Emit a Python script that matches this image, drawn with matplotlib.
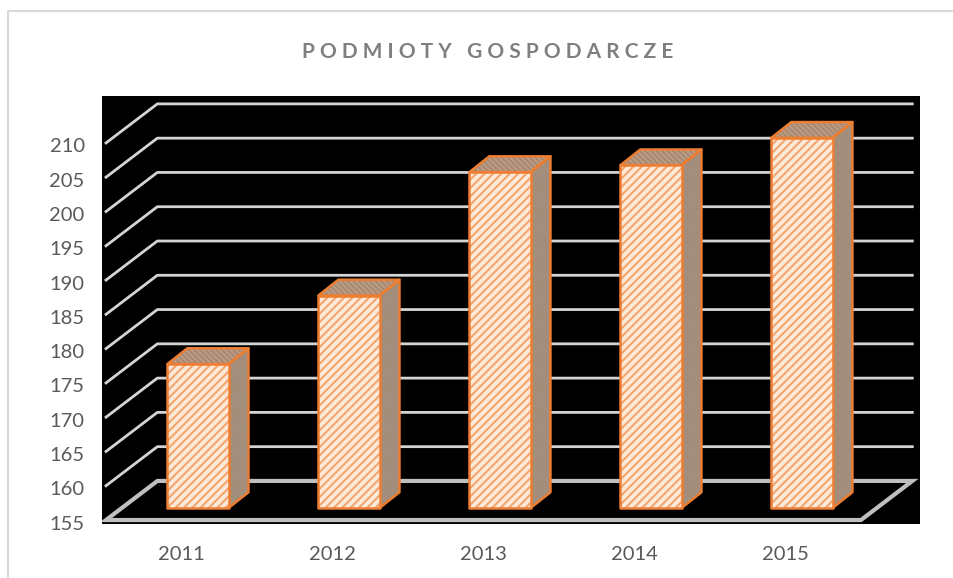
import matplotlib
matplotlib.use("Agg")
import matplotlib.pyplot as plt
from matplotlib.lines import Line2D
from matplotlib.patches import Polygon
from matplotlib.transforms import ScaledTranslation

plt.rcParams['font.family'] = ['Lato', 'DejaVu Sans']

years = ['2011', '2012', '2013', '2014', '2015']
values = [176, 186, 204, 205, 209]
ticks = [155, 160, 165, 170, 175, 180, 185, 190, 195, 200, 205, 210]

W, H = 954, 578
depth_x, depth_y = 0.34, 5.7     # wall depth in data units
bar_w = 0.405
bar_dx, bar_dy = 0.132, 2.3      # bar depth
bar_shift_x, bar_shift_y = 0.109, 1.75  # bar sits a bit inside the floor
orange = '#ed7d31'
grid = '#d4d4d4'

fig = plt.figure(figsize=(W / 100, H / 100), dpi=100)
ax = fig.add_axes([102 / W, 1 - 524 / H, (920 - 102) / W, (524 - 96) / H])
ax.set_facecolor('black')
ax.set_xlim(-0.5265, 4.891)
ax.set_ylim(154.42, 216.85)
for s in ax.spines.values():
    s.set_visible(False)

# gridlines on back wall + left wall
for t in ticks[1:]:
    ax.plot([-0.5, -0.5 + depth_x, 4.5 + depth_x], [t, t + depth_y, t + depth_y],
            color=grid, lw=2.0, zorder=1, solid_joinstyle='round')

# floor
ax.add_patch(Polygon([(-0.5, 155), (4.5, 155), (4.5 + depth_x, 155 + depth_y), (-0.5 + depth_x, 155 + depth_y)],
                     closed=True, fill=False, edgecolor='#bfbfbf', lw=3.0, zorder=2))


def face(pts, fc, hatch, hc, hw, z):
    plt.rcParams['hatch.linewidth'] = hw
    ax.add_patch(Polygon(pts, closed=True, facecolor=fc, edgecolor=hc, hatch=hatch, lw=0, zorder=z))
    ax.add_patch(Polygon(pts, closed=True, fill=False, edgecolor=orange, lw=1.8, zorder=z + 0.1, joinstyle='round'))


for i, v in enumerate(values):
    x0 = i + bar_shift_x - bar_w / 2
    x1 = x0 + bar_w
    y0 = 155 + bar_shift_y
    y1 = v + bar_shift_y
    face([(x1, y0), (x1 + bar_dx, y0 + bar_dy), (x1 + bar_dx, y1 + bar_dy), (x1, y1)],
         '#ab8a72', 'xxxxxxxx', '#9c9184', 0.6, 3)
    face([(x0, y1), (x1, y1), (x1 + bar_dx, y1 + bar_dy), (x0 + bar_dx, y1 + bar_dy)],
         '#b89a84', '\\\\\\\\\\\\', '#a07f66', 0.8, 3)
    face([(x0, y0), (x1, y0), (x1, y1), (x0, y1)], '#fde9da', '////', '#f4a46c', 1.5, 4)

ax.set_xticks(range(len(years)))
ax.set_xticklabels(years)
ax.set_yticks(ticks)
ax.tick_params(axis='x', length=0, pad=15.5, labelsize=14.5, labelcolor='#595959')
ax.tick_params(axis='y', length=0, pad=12.5, labelsize=14.5, labelcolor='#595959')
shift = ScaledTranslation(0, -2.5 / 100, fig.dpi_scale_trans)
for lab in ax.get_yticklabels():
    lab.set_transform(lab.get_transform() + shift)

fig.text(487.5 / W, 1 - 52 / H, 'P O D M I O T Y   G O S P O D A R C Z E', ha='center', va='center',
         fontsize=15, fontweight='bold', color='#7f7f7f')

# chart frame, cut off at the right and bottom of the picture
fig.add_artist(Line2D([8.5 / W, 8.5 / W, 1], [0, 1 - 11 / H, 1 - 11 / H], color='#d9d9d9', lw=1.5))

fig.savefig('out.png', dpi=100)
